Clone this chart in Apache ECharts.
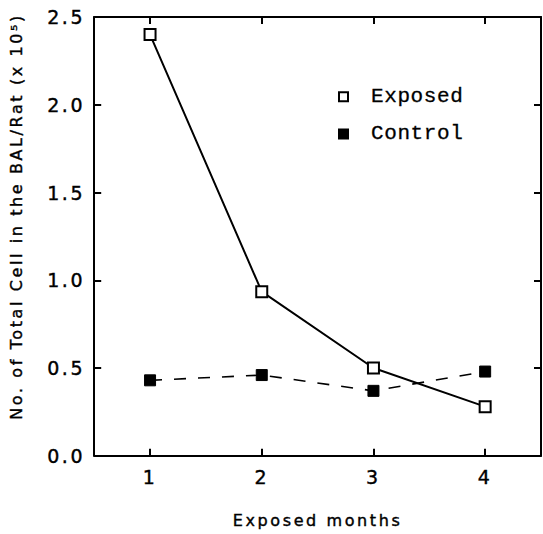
<!DOCTYPE html>
<html><head><meta charset="utf-8">
<script src="https://cdn.jsdelivr.net/npm/echarts@6/dist/echarts.min.js"></script>
<style>html,body{margin:0;padding:0;background:#fff}#c{width:543px;height:534px}
#c text{letter-spacing:2.6px}
#c text[style*="Liberation Mono"]{letter-spacing:0.6px}</style>
</head><body><div id="c"></div>
<script>
var months = ['1', '2', '3', '4'];
var exposed = [2.40, 0.935, 0.50, 0.28];
var control = [0.43, 0.46, 0.37, 0.48];
var yTicks = ['0.0', '0.5', '1.0', '1.5', '2.0', '2.5'];

var chart = echarts.init(document.getElementById('c'), null, {renderer: 'svg'});
var axisFont = {fontFamily: 'DejaVu Sans', fontSize: 19, color: '#000', textBorderColor: '#000', textBorderWidth: 0.4};
var xBase = {type: 'category', data: months, boundaryGap: true,
  axisLine: {show: true, onZero: false, lineStyle: {color: '#000', width: 2}},
  axisTick: {show: true, inside: true, alignWithLabel: true, length: 7, lineStyle: {color: '#000', width: 2}},
  splitLine: {show: false}};
var yBase = {type: 'value', min: 0, max: 2.5, interval: 0.5,
  axisLine: {show: true, onZero: false, lineStyle: {color: '#000', width: 2}},
  axisTick: {show: true, inside: true, length: 7, lineStyle: {color: '#000', width: 2}},
  splitLine: {show: false}};
var nameFont = {fontFamily: 'DejaVu Sans', fontSize: 16, color: '#000', textBorderColor: '#000', textBorderWidth: 0.4};
chart.setOption({
  animation: false,
  grid: {left: 94, right: 2, top: 17, bottom: 68},
  legend: {
    left: 338, top: 86, padding: 0, orient: 'vertical', itemGap: 16, icon: 'rect',
    itemWidth: 9, itemHeight: 9,
    textStyle: {fontFamily: 'Liberation Mono', fontSize: 21, color: '#000', padding: [0, 0, 0, 18],
      textBorderColor: '#000', textBorderWidth: 0.3},
    data: ['Exposed', 'Control']
  },
  xAxis: [
    Object.assign({}, xBase, {position: 'bottom', name: 'Exposed months', nameLocation: 'middle', nameGap: 57,
      nameTextStyle: nameFont,
      axisLabel: Object.assign({margin: 12}, axisFont)}),
    Object.assign({}, xBase, {position: 'top', axisLabel: {show: false}})
  ],
  yAxis: [
    Object.assign({}, yBase, {position: 'left', name: 'No. of Total Cell in the BAL/Rat (x 10\u2075)', nameLocation: 'middle', nameGap: 70,
      nameTextStyle: Object.assign({padding: [0, 0, 0, 40]}, nameFont),
      axisLabel: Object.assign({margin: 9, formatter: function (v) { return yTicks[Math.round(v * 2)]; }}, axisFont)}),
    Object.assign({}, yBase, {position: 'right', axisLabel: {show: false}})
  ],
  series: [
    {name: 'Exposed', type: 'line', data: exposed, symbol: 'rect', symbolSize: 11,
      lineStyle: {color: '#000', width: 2},
      itemStyle: {color: '#fff', borderColor: '#000', borderWidth: 2}},
    {name: 'Control', type: 'line', data: control, symbol: 'rect', symbolSize: 11,
      lineStyle: {color: '#000', width: 1.6, type: [12, 12]},
      itemStyle: {color: '#000', borderColor: '#000', borderWidth: 1}}
  ]
});
</script></body></html>
